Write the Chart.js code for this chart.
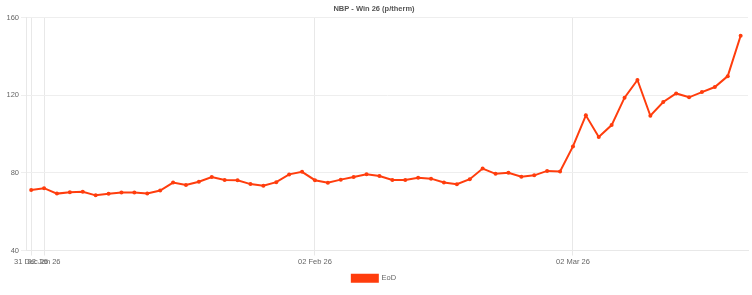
<!DOCTYPE html>
<html>
<head>
<meta charset="utf-8">
<title>NBP - Win 26</title>
<script src="https://cdn.jsdelivr.net/npm/chart.js@4.4.1/dist/chart.umd.min.js"></script>
<style>
  html, body { margin: 0; padding: 0; background: #fff; }
  #wrap { width: 752px; height: 295px; position: relative; }
</style>
</head>
<body>
<div id="wrap"><canvas id="nbpChart"></canvas></div>
<script>
// trading days shown on the x axis
const dates = [
  "31 Dec 25", "02 Jan 26",
  "05 Jan 26", "06 Jan 26", "07 Jan 26", "08 Jan 26", "09 Jan 26",
  "12 Jan 26", "13 Jan 26", "14 Jan 26", "15 Jan 26", "16 Jan 26",
  "19 Jan 26", "20 Jan 26", "21 Jan 26", "22 Jan 26", "23 Jan 26",
  "26 Jan 26", "27 Jan 26", "28 Jan 26", "29 Jan 26", "30 Jan 26",
  "02 Feb 26", "03 Feb 26", "04 Feb 26", "05 Feb 26", "06 Feb 26",
  "09 Feb 26", "10 Feb 26", "11 Feb 26", "12 Feb 26", "13 Feb 26",
  "16 Feb 26", "17 Feb 26", "18 Feb 26", "19 Feb 26", "20 Feb 26",
  "23 Feb 26", "24 Feb 26", "25 Feb 26", "26 Feb 26", "27 Feb 26",
  "02 Mar 26", "03 Mar 26", "04 Mar 26", "05 Mar 26", "06 Mar 26",
  "09 Mar 26", "10 Mar 26", "11 Mar 26", "12 Mar 26", "13 Mar 26",
  "16 Mar 26", "17 Mar 26", "18 Mar 26", "19 Mar 26"
];

// end of day price, p/therm
const eod = [
  71.2, 72.1,
  69.3, 70.0, 70.3, 68.4, 69.2,
  69.9, 69.9, 69.4, 70.9, 75.0,
  73.7, 75.4, 77.8, 76.3, 76.2,
  74.2, 73.4, 75.2, 79.2, 80.5,
  76.2, 74.9, 76.5, 77.9, 79.3,
  78.4, 76.3, 76.3, 77.5, 77.0,
  75.0, 74.1, 76.7, 82.2, 79.5,
  80.0, 78.0, 78.7, 81.0, 80.7,
  93.6, 109.6, 98.5, 104.6, 118.7,
  127.8, 109.4, 116.5, 120.9, 118.9,
  121.6, 124.2, 129.8, 150.6
];

// which dates get a tick label
const tickDates = ["31 Dec 25", "02 Jan 26", "02 Feb 26", "02 Mar 26"];
const yTicks = [40, 80, 120, 160];

const lineColor = "#ff3d0d";
const fontFamily = "'Liberation Sans', Arial, Helvetica, sans-serif";

Chart.defaults.font.family = fontFamily;
Chart.defaults.font.size = 7.5;
Chart.defaults.color = "#666";

const tickIdx = tickDates.map(d => dates.indexOf(d));

new Chart(document.getElementById("nbpChart"), {
  type: "line",
  data: {
    datasets: [{
      label: "EoD",
      data: eod.map((v, i) => ({ x: i, y: v })),
      borderColor: lineColor,
      backgroundColor: lineColor,
      borderWidth: 2,
      pointRadius: 2,
      pointBackgroundColor: lineColor,
      pointBorderColor: lineColor,
      pointBorderWidth: 0,
      tension: 0,
      fill: false
    }]
  },
  options: {
    responsive: true,
    maintainAspectRatio: false,
    animation: false,
    layout: { padding: { left: 0, right: 4, top: 0, bottom: 3 } },
    plugins: {
      title: {
        display: true,
        text: "NBP - Win 26 (p/therm)",
        color: "#555",
        font: { size: 7.5, weight: "bold" },
        padding: { top: 4, bottom: 4.5 }
      },
      legend: {
        position: "bottom",
        labels: {
          boxWidth: 26,
          boxHeight: 7,
          padding: 6,
          font: { size: 7.5 }
        }
      },
      tooltip: { enabled: false }
    },
    scales: {
      x: {
        type: "linear",
        min: -0.4,
        max: 55.57,
        afterBuildTicks: s => { s.ticks = tickIdx.map(v => ({ value: v })); },
        ticks: {
          autoSkip: false,
          maxRotation: 0,
          padding: 2,
          callback: v => dates[v]
        },
        grid: { color: "#e8e8e8", tickLength: 5 },
        border: { color: "#e8e8e8" }
      },
      y: {
        min: 40,
        max: 160,
        afterBuildTicks: s => { s.ticks = yTicks.map(v => ({ value: v })); },
        afterFit: s => { s.width = 26; },
        ticks: { padding: 2 },
        grid: { color: "#eeeeee", tickLength: 5 },
        border: { color: "#e8e8e8" }
      }
    }
  }
});
</script>
</body>
</html>
